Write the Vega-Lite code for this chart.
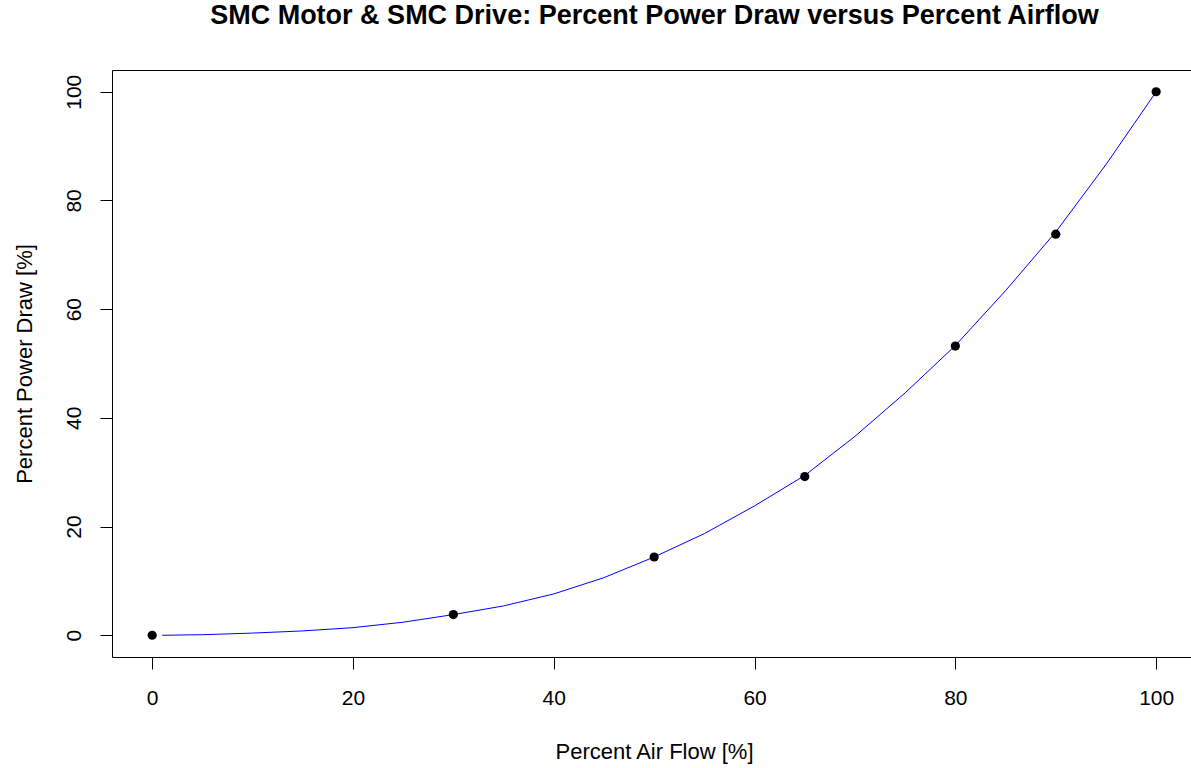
{
  "$schema": "https://vega.github.io/schema/vega-lite/v6.json",
  "width": 1079,
  "height": 587,
  "autosize": {"type": "none"},
  "padding": {"left": 112, "top": 70, "right": 0, "bottom": 111},
  "background": "white",
  "title": {
    "text": "SMC Motor & SMC Drive: Percent Power Draw versus Percent Airflow",
    "font": "Liberation Sans",
    "fontSize": 27,
    "fontWeight": "bold",
    "color": "black",
    "anchor": "middle",
    "baseline": "alphabetic",
    "offset": 19,
    "dx": 3
  },
  "config": {
    "view": {"stroke": "black", "strokeWidth": 1},
    "axis": {
      "grid": false,
      "domain": false,
      "tickColor": "black",
      "tickSize": 12,
      "tickWidth": 1,
      "labelFont": "Liberation Sans",
      "labelFontSize": 21,
      "labelColor": "black",
      "labelFlush": false,
      "labelOverlap": false,
      "titleFont": "Liberation Sans",
      "titleFontSize": 22,
      "titleFontWeight": "normal",
      "titleColor": "black"
    }
  },
  "datasets": {
    "curve": [
      {"airflow": 1, "power": 0.0},
      {"airflow": 5, "power": 0.1},
      {"airflow": 10, "power": 0.4},
      {"airflow": 15, "power": 0.8},
      {"airflow": 20, "power": 1.4},
      {"airflow": 25, "power": 2.4},
      {"airflow": 30, "power": 3.8},
      {"airflow": 35, "power": 5.4},
      {"airflow": 40, "power": 7.6},
      {"airflow": 45, "power": 10.6},
      {"airflow": 50, "power": 14.4},
      {"airflow": 55, "power": 18.7},
      {"airflow": 60, "power": 23.8},
      {"airflow": 65, "power": 29.4},
      {"airflow": 70, "power": 36.6},
      {"airflow": 75, "power": 44.6},
      {"airflow": 80, "power": 53.3},
      {"airflow": 85, "power": 63.4},
      {"airflow": 90, "power": 74.2},
      {"airflow": 95, "power": 86.6},
      {"airflow": 100, "power": 100}
    ],
    "points": [
      {"airflow": 0, "power": 0},
      {"airflow": 30, "power": 3.8},
      {"airflow": 50, "power": 14.4},
      {"airflow": 65, "power": 29.2},
      {"airflow": 80, "power": 53.2},
      {"airflow": 90, "power": 73.8},
      {"airflow": 100, "power": 100}
    ]
  },
  "encoding": {
    "x": {
      "field": "airflow",
      "type": "quantitative",
      "scale": {"domain": [-4, 103.47], "nice": false, "zero": false},
      "axis": {
        "values": [0, 20, 40, 60, 80, 100],
        "title": "Percent Air Flow [%]",
        "labelBaseline": "alphabetic",
        "labelPadding": 35.5,
        "titleBaseline": "alphabetic",
        "titleAlign": "center",
        "titleY": 101.5,
        "titleX": 542
      }
    },
    "y": {
      "field": "power",
      "type": "quantitative",
      "scale": {"domain": [-4, 104], "nice": false, "zero": false},
      "axis": {
        "values": [0, 20, 40, 60, 80, 100],
        "title": "Percent Power Draw [%]",
        "labelAngle": -90,
        "labelAlign": "center",
        "labelBaseline": "alphabetic",
        "labelPadding": 20,
        "titleAngle": -90,
        "titleBaseline": "alphabetic",
        "titleAlign": "center",
        "titleX": -81,
        "titleY": 293.5
      }
    }
  },
  "layer": [
    {
      "data": {"name": "curve"},
      "mark": {"type": "line", "color": "#0000ff", "strokeWidth": 1}
    },
    {
      "data": {"name": "points"},
      "mark": {"type": "point", "filled": true, "color": "black", "size": 85, "opacity": 1}
    }
  ]
}
